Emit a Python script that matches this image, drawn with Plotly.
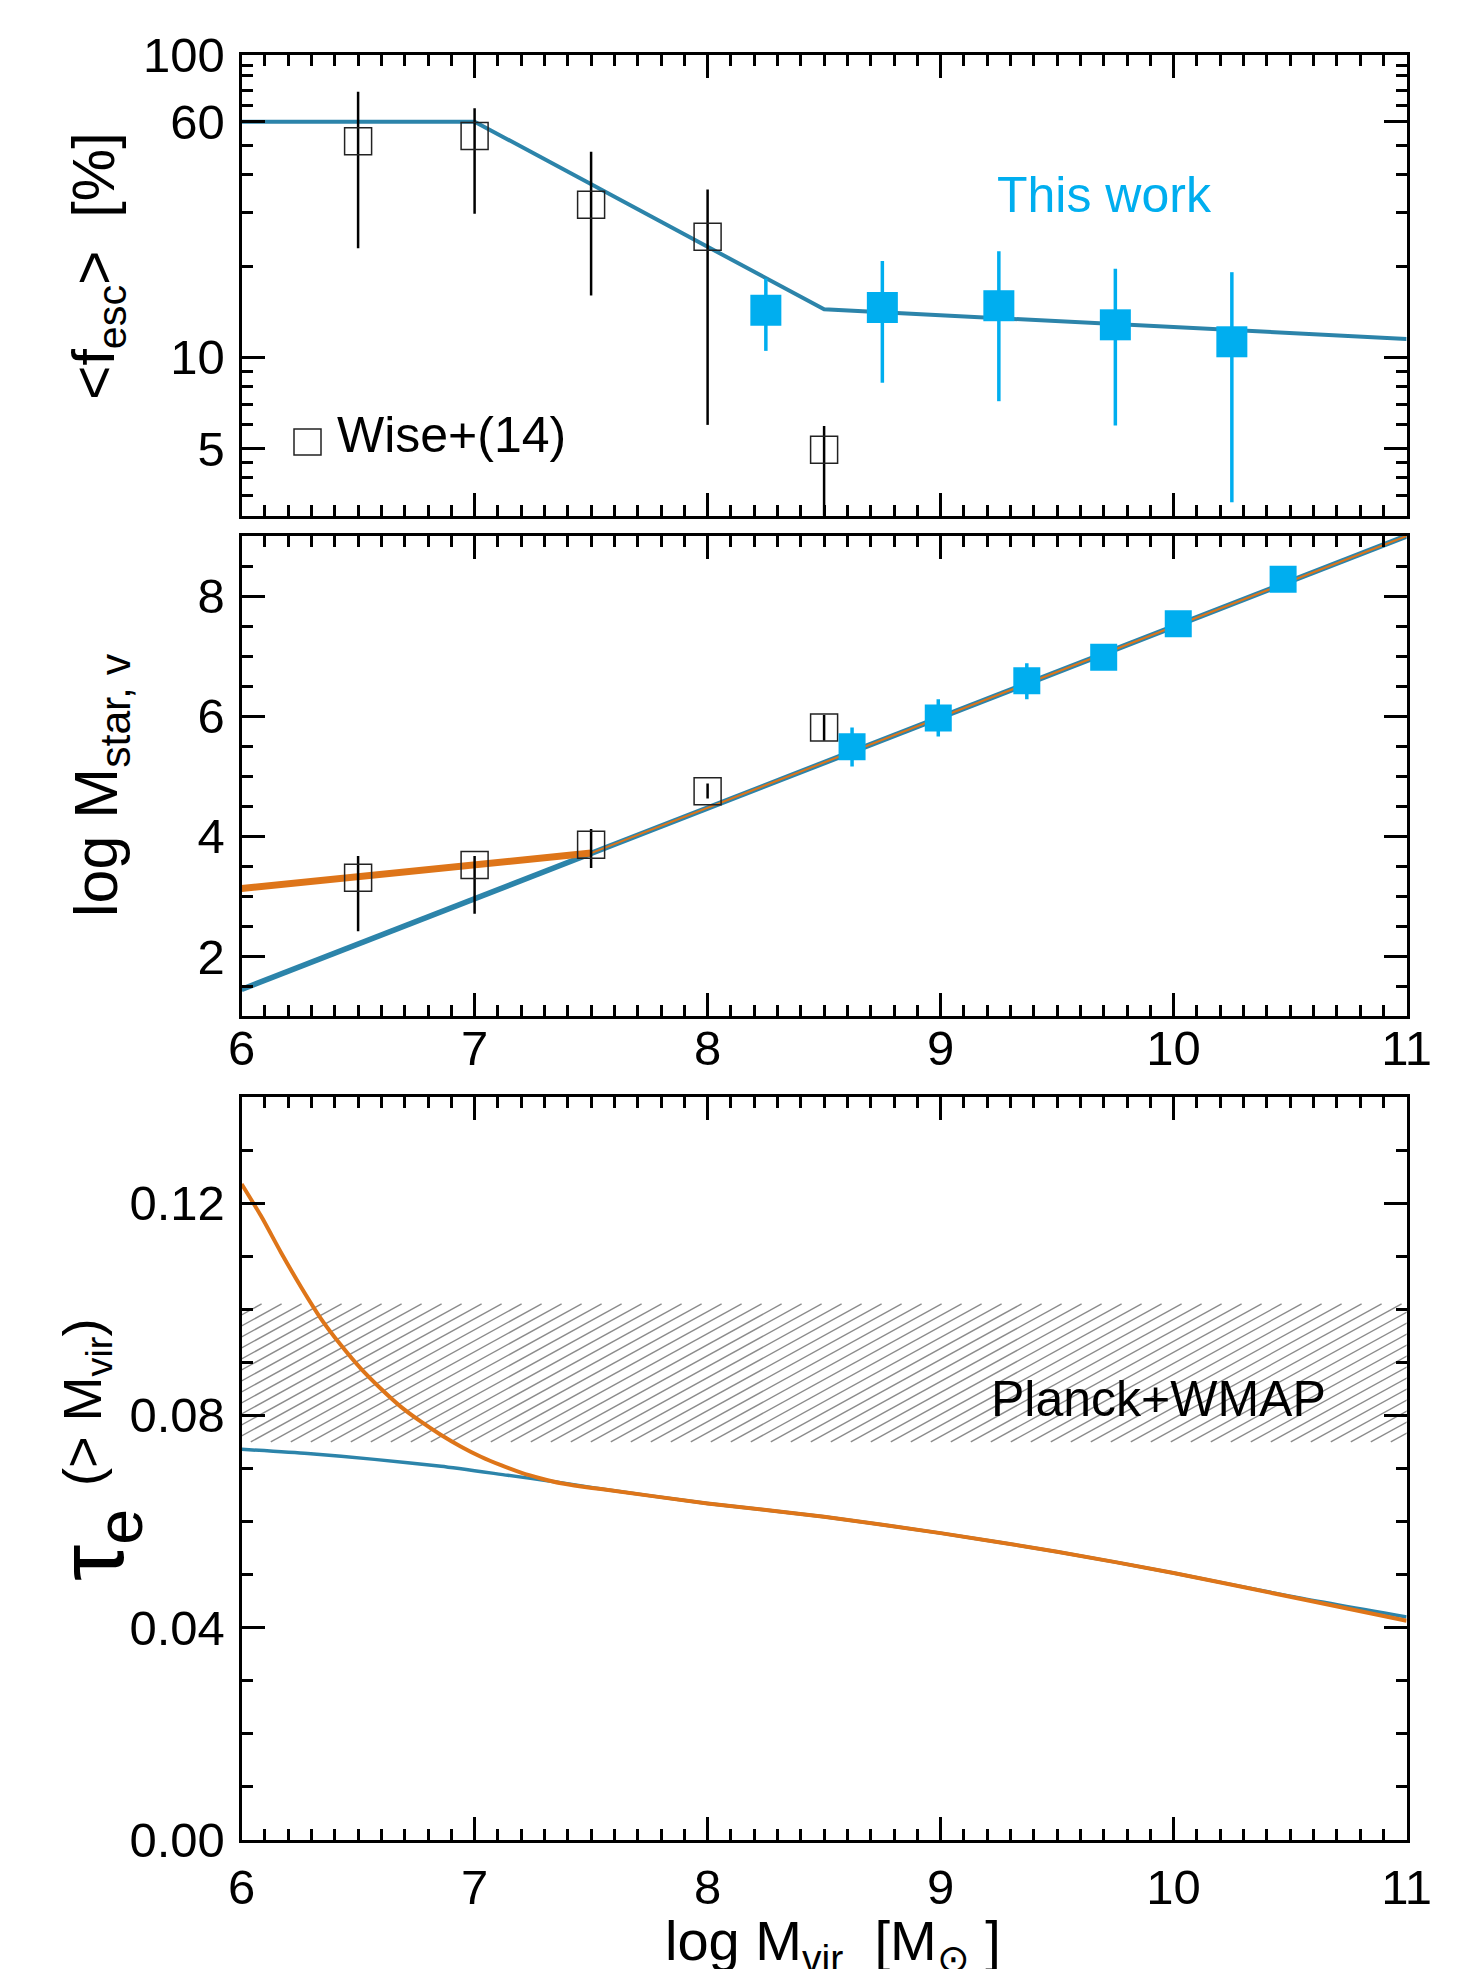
import numpy as np
import plotly.graph_objects as go

W, H = 1483, 1969

# ---------------- data ----------------
# Panel 1: <f_esc> [%]
fesc_model_x = [6.0, 7.0, 8.5, 11.0]
fesc_model_y = [60.0, 60.0, 14.4, 11.5]

wise_x = [6.5, 7.0, 7.5, 8.0, 8.5]
wise_fesc = [51.7, 53.8, 31.9, 25.0, 4.95]
wise_fesc_hi = [75.4, 66.5, 47.7, 35.8, 5.93]
wise_fesc_lo = [22.9, 29.8, 16.0, 5.98, 2.0]

this_fesc_x = [8.25, 8.75, 9.25, 9.75, 10.25]
this_fesc = [14.3, 14.6, 14.8, 12.8, 11.25]
this_fesc_hi = [18.2, 20.8, 22.4, 19.6, 19.1]
this_fesc_lo = [10.5, 8.24, 7.16, 5.95, 3.32]

# Panel 2: log M_star
mstar_blue_x = [6.0, 11.0]
mstar_blue_y = [1.45, 9.0]
mstar_orange_lo_x = [6.0, 7.5]
mstar_orange_lo_y = [3.13, 3.72]
mstar_orange_hi_x = [7.5, 11.0]
mstar_orange_hi_y = [3.72, 9.0]

wise_mstar = [3.31, 3.52, 3.86, 4.75, 5.81]
wise_mstar_hi = [3.67, 3.67, 4.12, 4.88, 6.02]
wise_mstar_lo = [2.42, 2.71, 3.47, 4.63, 5.59]

this_mstar_x = [8.62, 8.99, 9.37, 9.70, 10.02, 10.47]
this_mstar = [5.49, 5.97, 6.59, 6.98, 7.54, 8.28]
this_mstar_hi = [5.81, 6.28, 6.88, 6.98, 7.54, 8.28]
this_mstar_lo = [5.16, 5.66, 6.28, 6.98, 7.54, 8.28]

# Panel 3: tau_e(>M_vir)
tau_blue_x = [6.0, 6.284, 6.570, 6.856, 7.142, 7.342, 7.5, 8.0, 8.5, 9.0, 9.5, 10.0, 10.5, 11.0]
tau_blue = [0.0736, 0.0728, 0.0717, 0.0704, 0.0687, 0.0675, 0.0664, 0.0634, 0.0609, 0.0578, 0.0543, 0.0503, 0.0459, 0.0420]
tau_orange_x = [6.0, 6.083, 6.169, 6.255, 6.341, 6.427, 6.512, 6.598, 6.684, 6.770, 6.856,
                6.942, 7.027, 7.113, 7.199, 7.285, 7.371, 7.457, 7.542, 8.0, 8.5, 9.0,
                9.5, 10.0, 10.5, 11.0]
tau_orange = [0.1236, 0.1176, 0.1107, 0.1042, 0.0982, 0.0932, 0.0888, 0.0850, 0.0816, 0.0788, 0.0763,
              0.0741, 0.0722, 0.0706, 0.0692, 0.0681, 0.0672, 0.0666, 0.0661, 0.0634, 0.0609, 0.0578,
              0.0543, 0.0503, 0.0458, 0.0413]
planck_band = [0.075, 0.101]

x_ticks = [6, 7, 8, 9, 10, 11]
fesc_ticks = [5, 10, 60, 100]
fesc_minor = [3.5, 4, 4.5, 6, 7, 8, 9, 20, 30, 40, 50, 68, 76, 85, 92]
mstar_ticks = [2, 4, 6, 8]
tau_ticks = [0.0, 0.04, 0.08, 0.12]

# ---------------- styling ----------------
BLUE_LINE = "#2C84AA"
CYAN = "#00AEEF"
ORANGE = "#DE7519"
FONT = "Liberation Sans, Arial, Helvetica, sans-serif"
TICKFONT = dict(family=FONT, size=49, color="black")

# panel geometry in page pixels
PX_L, PX_R = 241.6, 1406.6
P1 = (54.5, 515.6)
P2 = (536.0, 1016.4)
P3 = (1097.0, 1839.8)


def xp(px):
    return px / W


def yp(py):
    return 1 - py / H


def ydom(p):
    return [yp(p[1]), yp(p[0])]


fig = go.Figure()


def err(vals, hi, lo):
    return (dict(type="data", symmetric=False,
                 array=[h - v for h, v in zip(hi, vals)],
                 arrayminus=[v - l for v, l in zip(vals, lo)]))


# ---- panel 1 ----
fig.add_trace(go.Scatter(x=fesc_model_x, y=fesc_model_y, mode="lines",
                         line=dict(color=BLUE_LINE, width=4), xaxis="x", yaxis="y", showlegend=False))
e = err(wise_fesc, wise_fesc_hi, wise_fesc_lo)
e.update(color="black", thickness=2.5, width=0)
fig.add_trace(go.Scatter(x=wise_x, y=wise_fesc, mode="markers",
                         marker=dict(symbol="square-open", size=27, color="#222222",
                                     line=dict(width=1.5, color="#222222")),
                         error_y=e, xaxis="x", yaxis="y", showlegend=False))
e = err(this_fesc, this_fesc_hi, this_fesc_lo)
e.update(color=CYAN, thickness=3.5, width=0)
fig.add_trace(go.Scatter(x=this_fesc_x, y=this_fesc, mode="markers",
                         marker=dict(symbol="square", size=31, color=CYAN),
                         error_y=e, xaxis="x", yaxis="y", showlegend=False))

# ---- panel 2 ----
fig.add_trace(go.Scatter(x=mstar_blue_x, y=mstar_blue_y, mode="lines",
                         line=dict(color=BLUE_LINE, width=5.5), xaxis="x2", yaxis="y2", showlegend=False))
fig.add_trace(go.Scatter(x=mstar_orange_lo_x, y=mstar_orange_lo_y, mode="lines",
                         line=dict(color=ORANGE, width=7), xaxis="x2", yaxis="y2", showlegend=False))
fig.add_trace(go.Scatter(x=mstar_orange_hi_x, y=mstar_orange_hi_y, mode="lines",
                         line=dict(color=ORANGE, width=2), xaxis="x2", yaxis="y2", showlegend=False))
e = err(wise_mstar, wise_mstar_hi, wise_mstar_lo)
e.update(color="black", thickness=2.5, width=0)
fig.add_trace(go.Scatter(x=wise_x, y=wise_mstar, mode="markers",
                         marker=dict(symbol="square-open", size=27, color="#222222",
                                     line=dict(width=1.5, color="#222222")),
                         error_y=e, xaxis="x2", yaxis="y2", showlegend=False))
e = err(this_mstar, this_mstar_hi, this_mstar_lo)
e.update(color=CYAN, thickness=3.5, width=0)
fig.add_trace(go.Scatter(x=this_mstar_x, y=this_mstar, mode="markers",
                         marker=dict(symbol="square", size=27, color=CYAN),
                         error_y=e, xaxis="x2", yaxis="y2", showlegend=False))

# ---- panel 3 ----
# hatch lines for the Planck+WMAP band, slanted ~29 deg on screen
px_per_x = (PX_R - PX_L) / 5.0
px_per_y = (P3[1] - P3[0]) / 0.14
slant = 0.55
span = (planck_band[1] - planck_band[0]) * px_per_y / slant / px_per_x
step = 20.0 / px_per_x
hx, hy = [], []
for xb in np.arange(6.0 - span, 11.0 + step, step):
    hx += [xb, xb + span, None]
    hy += [planck_band[0], planck_band[1], None]
fig.add_trace(go.Scatter(x=hx, y=hy, mode="lines", line=dict(color="#8C8C8C", width=1.4),
                         xaxis="x3", yaxis="y3", showlegend=False, hoverinfo="skip"))
fig.add_trace(go.Scatter(x=tau_blue_x, y=tau_blue, mode="lines", line_shape="spline",
                         line=dict(color=BLUE_LINE, width=3.5, smoothing=0.6),
                         xaxis="x3", yaxis="y3", showlegend=False))
fig.add_trace(go.Scatter(x=tau_orange_x, y=tau_orange, mode="lines", line_shape="spline",
                         line=dict(color=ORANGE, width=4, smoothing=0.6),
                         xaxis="x3", yaxis="y3", showlegend=False))

# ---------------- axes ----------------
common = dict(showline=True, linecolor="black", linewidth=3, mirror="ticks",
              ticks="inside", tickcolor="black", tickwidth=2.5, ticklen=23,
              showgrid=False, zeroline=False, tickfont=TICKFONT, automargin=False)


def xax(anchor, labels, standoff):
    d = dict(common)
    d.update(domain=[xp(PX_L), xp(PX_R)], anchor=anchor, range=[6, 11],
             tickmode="array", tickvals=x_ticks, ticktext=[str(v) for v in x_ticks],
             showticklabels=labels, ticklabelstandoff=standoff,
             minor=dict(ticks="inside", ticklen=11, tickwidth=2.5, tickcolor="black",
                        dtick=0.1, tick0=6, showgrid=False))
    return d


def yax(anchor, dom):
    d = dict(common)
    d.update(domain=dom, anchor=anchor, ticklabelstandoff=4)
    return d


ya1 = yax("x", ydom(P1))
ya1.update(type="log", range=[np.log10(3), 2], tickmode="array", tickvals=fesc_ticks,
           ticktext=[str(v) for v in fesc_ticks],
           minor=dict(ticks="inside", ticklen=11, tickwidth=2.5, tickcolor="black",
                      tickmode="array", tickvals=fesc_minor, showgrid=False))
ya2 = yax("x2", ydom(P2))
ya2.update(range=[1, 9], tickmode="array", tickvals=mstar_ticks,
           ticktext=[str(v) for v in mstar_ticks],
           minor=dict(ticks="inside", ticklen=11, tickwidth=2.5, tickcolor="black",
                      dtick=0.5, tick0=0, showgrid=False))
ya3 = yax("x3", ydom(P3))
ya3.update(range=[0, 0.14], tickmode="array", tickvals=tau_ticks,
           ticktext=["%.2f" % v for v in tau_ticks],
           minor=dict(ticks="inside", ticklen=11, tickwidth=2.5, tickcolor="black",
                      dtick=0.01, tick0=0, showgrid=False))

fig.update_layout(
    width=W, height=H, margin=dict(l=0, r=0, t=0, b=0, pad=0, autoexpand=False),
    paper_bgcolor="white", plot_bgcolor="white",
    font=dict(family=FONT, color="black"),
    xaxis=xax("y", False, 0),
    xaxis2=xax("y2", True, -13),
    xaxis3=xax("y3", True, 2),
    yaxis=ya1, yaxis2=ya2, yaxis3=ya3,
)

# ---------------- text ----------------
ann = []
ann.append(dict(text="This work", x=xp(1104), y=yp(195), font=dict(size=50, color=CYAN)))
ann.append(dict(text="Wise+(14)", x=xp(451), y=yp(435), font=dict(size=50, color="black")))
ann.append(dict(text="Planck+WMAP", x=xp(1158), y=yp(1399), font=dict(size=50, color="black")))
ann.append(dict(text="&lt;f<sub>esc</sub>&gt;  [%]", x=xp(98), y=yp(266), textangle=-90,
                font=dict(size=59, color="black")))
ann.append(dict(text="log M<sub>star, v</sub>", x=xp(100), y=yp(785), textangle=-90,
                font=dict(size=61, color="black")))
ann.append(dict(text="τ<sub>e</sub>", x=xp(98), y=yp(1545), textangle=-90,
                font=dict(size=92, color="black")))
ann.append(dict(text="(&gt; M<sub>vir</sub>)", x=xp(86), y=yp(1403), textangle=-90,
                font=dict(size=54, color="black")))
ann.append(dict(text="log M<sub>vir</sub>  [M<sub>⊙</sub> ]", x=xp(833), y=yp(1944),
                font=dict(size=56, color="black")))
for a in ann:
    a.update(xref="paper", yref="paper", xanchor="center", yanchor="middle", showarrow=False)
fig.update_layout(annotations=ann)

# legend key square for Wise+(14)
fig.add_shape(type="rect", xref="paper", yref="paper",
              x0=xp(294), x1=xp(321), y0=yp(455), y1=yp(429),
              line=dict(color="#222222", width=1.5), fillcolor="rgba(0,0,0,0)")

fig.write_html("out.html", config={"displayModeBar": False},
               post_script="document.body.style.margin='0';document.body.style.overflow='hidden';")
